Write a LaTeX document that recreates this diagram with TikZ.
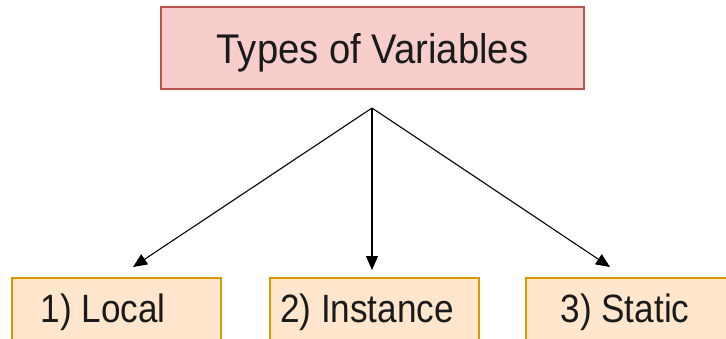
\documentclass[tikz,border=0pt]{standalone}
\usepackage{fontspec}
\setmainfont{Liberation Sans}
\usetikzlibrary{arrows.meta}
\definecolor{topfill}{HTML}{F8CECC}
\definecolor{topdraw}{HTML}{B85450}
\definecolor{botfill}{HTML}{FFE6CC}
\definecolor{botdraw}{HTML}{D79B00}
\definecolor{txt}{HTML}{1A1A1A}
\tikzset{
  topbox/.style={draw=topdraw, fill=topfill, line width=1.2pt, minimum width=423pt, minimum height=82pt, inner sep=0pt},
  botbox/.style={draw=botdraw, fill=botfill, line width=1.2pt, minimum width=209pt, minimum height=90pt, inner sep=0pt},
  lbl/.style={inner sep=0pt, anchor=base, text=txt, xscale=0.89, font=\fontsize{39.5}{44}\selectfont},
  conn/.style={line width=1.1pt, -{Triangle[length=14pt,width=12pt]}}
}
\begin{document}
\begin{tikzpicture}[x=1pt,y=-1pt]
\useasboundingbox (0,0) rectangle (726,338);
\begin{scope}
\clip (0,0) rectangle (726,338);
\node[topbox] (top) at (372.5,48) {};
\node[lbl, xscale=1.035, font=\fontsize{41.5}{46}\selectfont] (toptxt) at (372.5,63) {Types of Variables};
\node[botbox] (b1) at (116.5,323) {};
\node[botbox] (b2) at (374.5,323) {};
\node[botbox] (b3) at (630.5,323) {};
\node[lbl] (t1) at (103,322) {1) Local};
\node[lbl] (t2) at (367,322) {2) Instance};
\node[lbl] (t3) at (625,322) {3) Static};
\coordinate (apex) at (372,108);
\coordinate (e1) at (133,267);
\coordinate (e2) at (372,270);
\coordinate (e3) at (610,267);
\draw[conn] (apex) -- (e1);
\draw[conn] (apex) -- (e2);
\draw[conn] (apex) -- (e3);
\end{scope}
\end{tikzpicture}
\end{document}
